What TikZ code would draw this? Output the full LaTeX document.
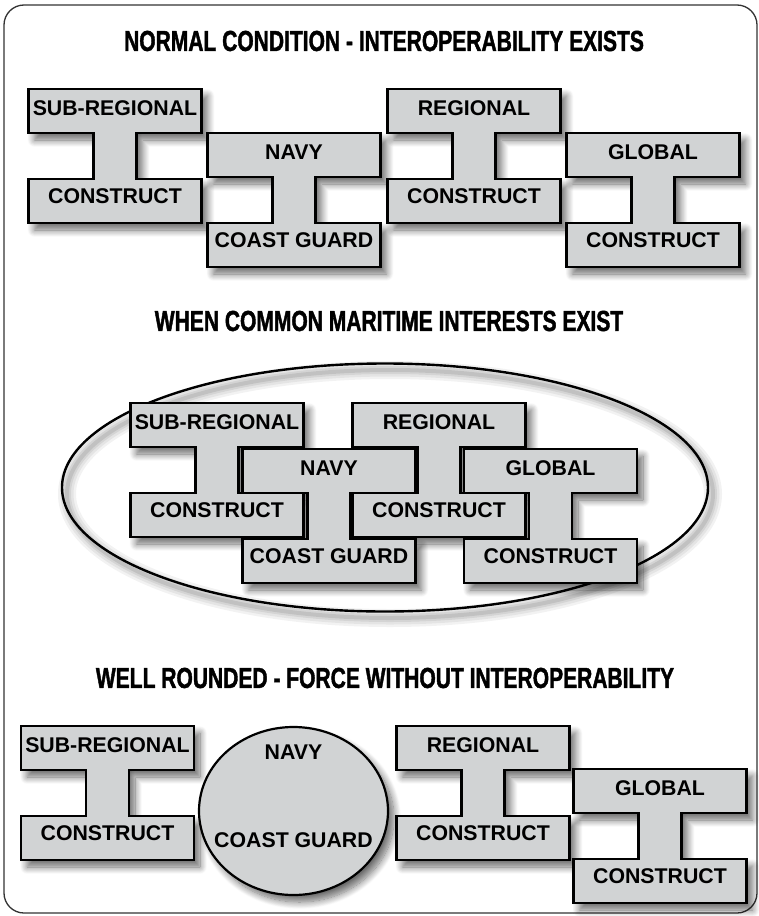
\documentclass[tikz,border=0pt]{standalone}
\usepackage{fontspec}
\setmainfont{Liberation Sans}
\newfontfamily\titlefont[FakeStretch=0.725, FakeBold=1.4]{Liberation Sans}
\usetikzlibrary{shadows.blur}
\definecolor{beamgray}{HTML}{D1D3D4}
\definecolor{framegray}{HTML}{333333}
\tikzset{
  beam/.style={draw=black, line width=2.2pt, fill=beamgray, line join=miter},
  beamshadow/.style={blur shadow={shadow xshift=6pt, shadow yshift=-7pt, shadow blur radius=7pt, shadow blur steps=12, shadow opacity=58}},
  lbl/.style={font=\bfseries\fontsize{21.3}{21.3}\selectfont, inner sep=0pt},
  ttl/.style={font=\titlefont\bfseries\fontsize{29}{29}\selectfont, inner sep=0pt},
  ringshadow/.style={black, line width=#1}
}
\newcommand\beamshape[3]{%
  \path[#1, shift={(#2,#3)}] (-86.5,0) -- (86.5,0) -- (86.5,44) -- (21.5,44) -- (21.5,90) -- (86.5,90) -- (86.5,134) -- (-86.5,134) -- (-86.5,90) -- (-21.5,90) -- (-21.5,44) -- (-86.5,44) -- cycle;}
\newcommand\beamlabels[5]{%
  \node[lbl] (#1t) at (#2,#3+19) {#4};
  \node[lbl] (#1b) at (#2,#3+107) {#5};}
\begin{document}
\begin{tikzpicture}[x=1pt, y=-1pt]
\useasboundingbox (0,0) rectangle (759,916);
% frame
\draw[framegray, line width=1.3pt, rounded corners=20pt] (4,5) rectangle (757,913);

% titles
\node[ttl] (t1) at (384,41) {NORMAL CONDITION - INTEROPERABILITY EXISTS};
\node[ttl] (t2) at (389,321) {WHEN COMMON MARITIME INTERESTS EXIST};
\node[ttl] (t3) at (385,678) {WELL ROUNDED - FORCE WITHOUT INTEROPERABILITY};

% ---------- row 1 ----------
\beamshape{beamshadow}{115}{89}
\beamshape{beamshadow}{294}{133}
\beamshape{beamshadow}{474}{89}
\beamshape{beamshadow}{653}{133}
\beamshape{beam}{115}{89}
\beamshape{beam}{294}{133}
\beamshape{beam}{474}{89}
\beamshape{beam}{653}{133}
\beamlabels{asub}{115}{89}{SUB-REGIONAL}{CONSTRUCT}
\beamlabels{anavy}{294}{133}{NAVY}{COAST GUARD}
\beamlabels{areg}{474}{89}{REGIONAL}{CONSTRUCT}
\beamlabels{aglob}{653}{133}{GLOBAL}{CONSTRUCT}

% ---------- row 2 (ellipse) ----------
\foreach \w/\o in {18/0.05,13/0.06,8/0.07,4/0.09}
  \draw[ringshadow=\w pt, opacity=\o] (390,494) ellipse [x radius=323pt, y radius=124pt];
\draw[black, line width=2.4pt] (385,487.5) ellipse [x radius=323pt, y radius=124pt];
\beamshape{beamshadow}{217}{403}
\beamshape{beamshadow}{329}{449}
\beamshape{beamshadow}{439}{403}
\beamshape{beamshadow}{550.5}{449}
\beamshape{beam}{217}{403}
\beamshape{beam}{329}{449}
\beamshape{beam}{439}{403}
\beamshape{beam}{550.5}{449}
\beamlabels{bsub}{217}{403}{SUB-REGIONAL}{CONSTRUCT}
\beamlabels{bnavy}{329}{449}{NAVY}{COAST GUARD}
\beamlabels{breg}{439}{403}{REGIONAL}{CONSTRUCT}
\beamlabels{bglob}{550.5}{449}{GLOBAL}{CONSTRUCT}

% ---------- row 3 ----------
\beamshape{beamshadow}{107.5}{726}
\beamshape{beamshadow}{483}{726}
\beamshape{beamshadow}{660}{769}
\path[beamshadow] (293.5,811) ellipse [x radius=94.5pt, y radius=84pt];
\beamshape{beam}{107.5}{726}
\draw[beam] (293.5,811) ellipse [x radius=94.5pt, y radius=84pt];
\beamshape{beam}{483}{726}
\beamshape{beam}{660}{769}
\beamlabels{csub}{107.5}{726}{SUB-REGIONAL}{CONSTRUCT}
\node[lbl] (cnavy) at (293.5,752) {NAVY};
\node[lbl] (ccg) at (293.5,840) {COAST GUARD};
\beamlabels{creg}{483}{726}{REGIONAL}{CONSTRUCT}
\beamlabels{cglob}{660}{769}{GLOBAL}{CONSTRUCT}
\end{tikzpicture}
\end{document}
